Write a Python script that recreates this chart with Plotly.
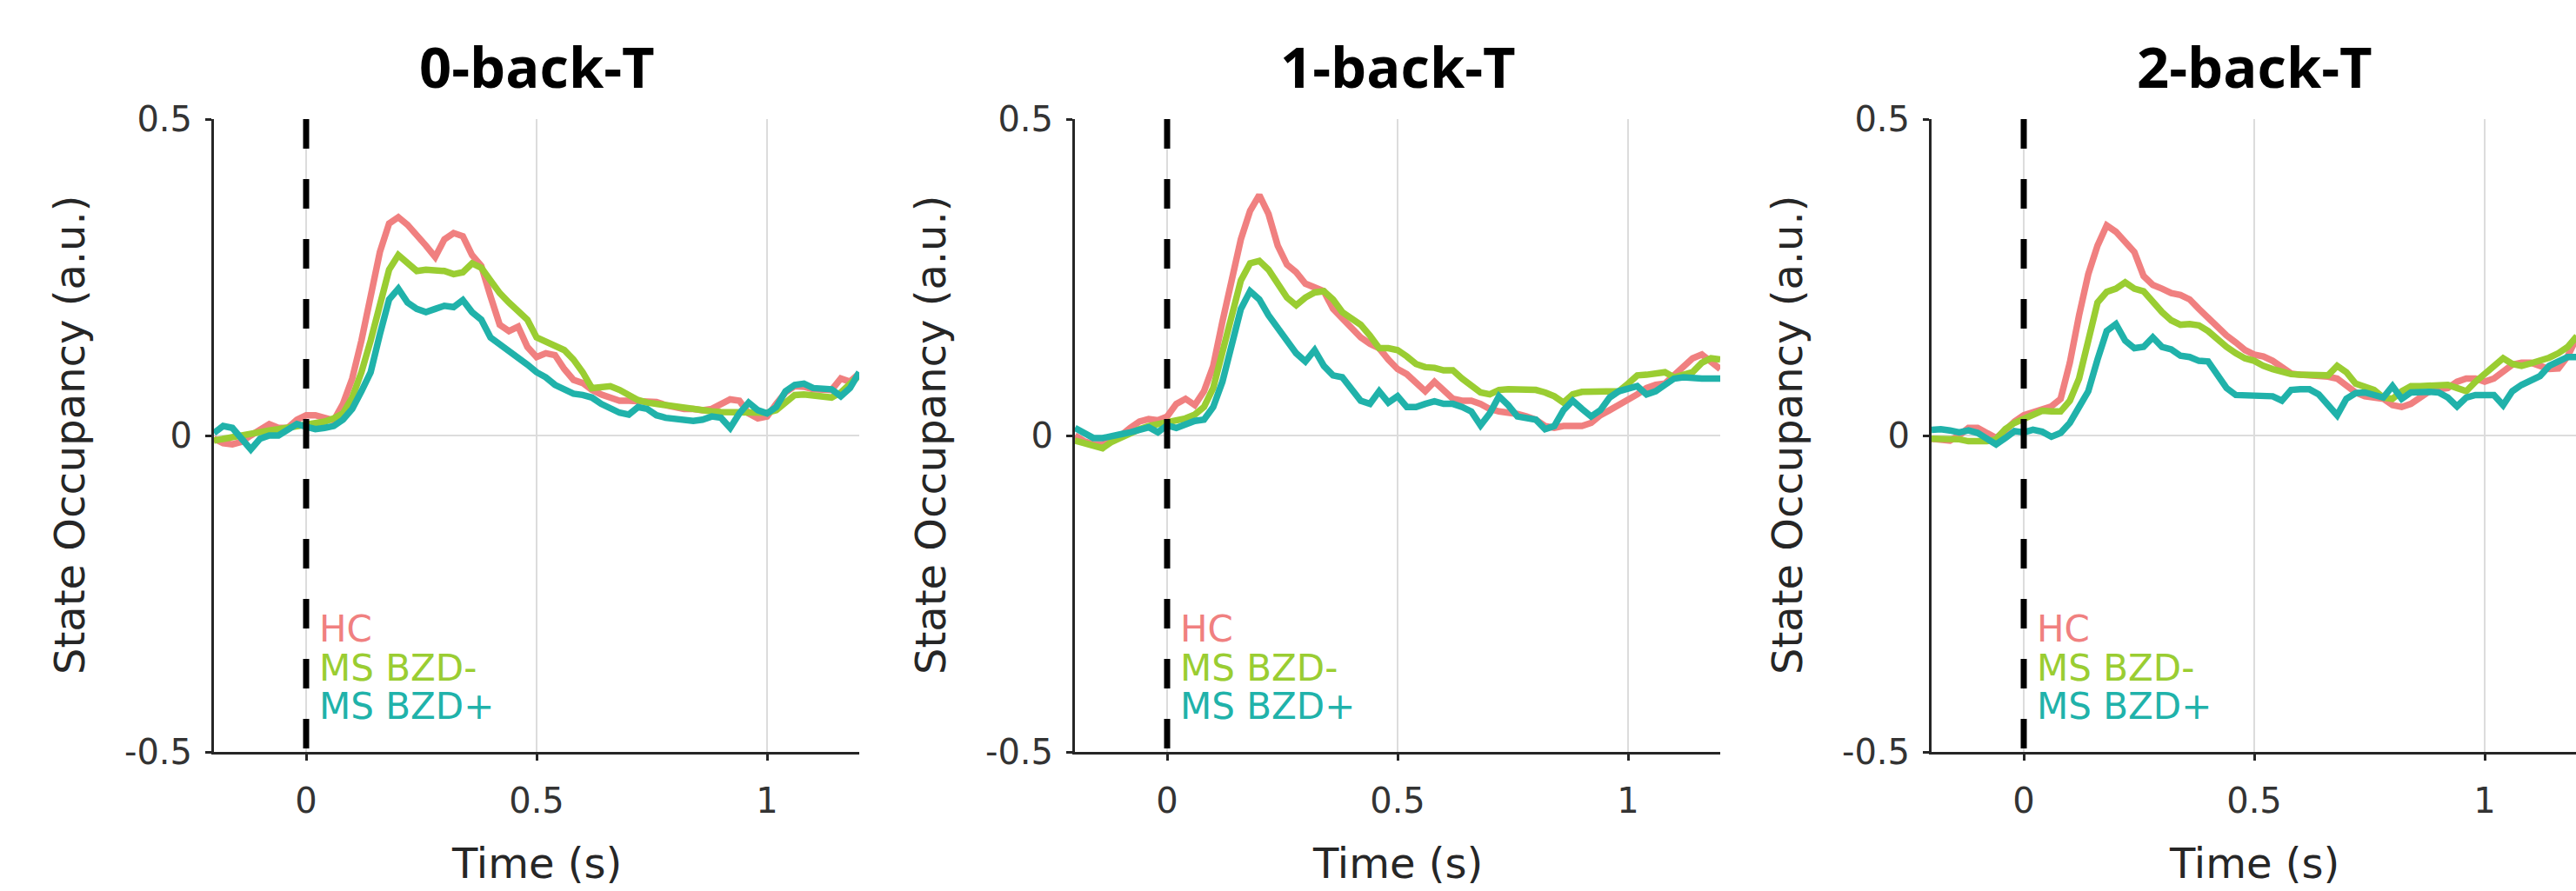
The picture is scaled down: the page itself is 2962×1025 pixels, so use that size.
import plotly.graph_objects as go

# ---------------- data ----------------
time_s = [round(-0.2 + 0.02 * i, 2) for i in range(71)]

panel_titles = ["0-back-T", "1-back-T", "2-back-T"]
group_names = ["HC", "MS BZD-", "MS BZD+"]
group_colors = ["#F08080", "#9ACD32", "#20B2AA"]

x_tick_vals = [0, 0.5, 1]
x_tick_text = ["0", "0.5", "1"]
y_tick_vals = [-0.5, 0, 0.5]
y_tick_text = ["-0.5", "0", "0.5"]

hc_0back = [-0.005, -0.012, -0.014, -0.01, 0.0, 0.01, 0.018, 0.012, 0.012, 0.025,
            0.032, 0.032, 0.028, 0.024, 0.05, 0.09, 0.15, 0.22, 0.29, 0.335,
            0.345, 0.333, 0.318, 0.30, 0.282, 0.31, 0.32, 0.315, 0.285, 0.268,
            0.22, 0.175, 0.165, 0.172, 0.14, 0.124, 0.13, 0.127, 0.105, 0.088,
            0.083, 0.072, 0.065, 0.06, 0.055, 0.055, 0.055, 0.055, 0.053, 0.048,
            0.045, 0.042, 0.042, 0.04, 0.042, 0.05, 0.057, 0.055, 0.035, 0.027,
            0.03, 0.05, 0.068, 0.078, 0.077, 0.073, 0.072, 0.072, 0.09, 0.085, 0.098]
bzdneg_0back = [-0.008, -0.005, -0.004, 0.0, 0.002, 0.005, 0.008, 0.01, 0.012, 0.014,
                0.016, 0.018, 0.022, 0.027, 0.035, 0.06, 0.1, 0.15, 0.21, 0.262,
                0.285, 0.272, 0.26, 0.262, 0.26, 0.26, 0.255, 0.258, 0.272, 0.265,
                0.245, 0.225, 0.21, 0.195, 0.183, 0.155, 0.148, 0.14, 0.135, 0.12,
                0.1, 0.075, 0.076, 0.078, 0.072, 0.065, 0.056, 0.052, 0.05, 0.048,
                0.045, 0.044, 0.04, 0.04, 0.038, 0.037, 0.037, 0.037, 0.037, 0.036,
                0.036, 0.04, 0.052, 0.064, 0.065, 0.064, 0.062, 0.06, 0.068, 0.08, 0.095]
bzdpos_0back = [0.004, 0.015, 0.012, -0.005, -0.022, -0.005, 0.0, 0.0, 0.01, 0.018,
                0.014, 0.01, 0.012, 0.015, 0.025, 0.042, 0.07, 0.1, 0.16, 0.215,
                0.232, 0.21, 0.2, 0.195, 0.2, 0.205, 0.203, 0.214, 0.195, 0.183,
                0.155, 0.145, 0.135, 0.125, 0.112, 0.1, 0.092, 0.08, 0.072, 0.066,
                0.064, 0.06, 0.05, 0.042, 0.036, 0.033, 0.045, 0.042, 0.032, 0.028,
                0.027, 0.025, 0.023, 0.025, 0.03, 0.028, 0.012, 0.035, 0.052, 0.04,
                0.035, 0.045, 0.07, 0.08, 0.082, 0.075, 0.073, 0.073, 0.062, 0.075, 0.1]

hc_1back = [0.0, -0.009, -0.014, -0.014, -0.008, 0.0, 0.012, 0.022, 0.026, 0.024,
            0.03, 0.05, 0.058, 0.048, 0.07, 0.11, 0.18, 0.25, 0.31, 0.355,
            0.38, 0.35, 0.3, 0.27, 0.258, 0.24, 0.235, 0.228, 0.2, 0.185,
            0.172, 0.155, 0.145, 0.138, 0.12, 0.105, 0.097, 0.085, 0.07, 0.085,
            0.072, 0.058, 0.055, 0.055, 0.05, 0.042, 0.038, 0.037, 0.034, 0.03,
            0.025, 0.015, 0.012, 0.015, 0.015, 0.015, 0.02, 0.032, 0.04, 0.048,
            0.055, 0.065, 0.075, 0.08, 0.082, 0.095, 0.11, 0.122, 0.128, 0.115, 0.105]
bzdneg_1back = [-0.008, -0.012, -0.016, -0.02, -0.01, -0.003, 0.004, 0.01, 0.015, 0.018,
                0.02, 0.022, 0.027, 0.033, 0.045, 0.075, 0.13, 0.19, 0.245, 0.272,
                0.276, 0.262, 0.24, 0.218, 0.206, 0.218, 0.226, 0.228, 0.215, 0.195,
                0.185, 0.175, 0.158, 0.138, 0.138, 0.135, 0.125, 0.113, 0.108, 0.107,
                0.103, 0.103, 0.09, 0.078, 0.068, 0.065, 0.072, 0.073, 0.073, 0.073,
                0.072, 0.068, 0.062, 0.052, 0.065, 0.069, 0.069, 0.069, 0.069, 0.07,
                0.082, 0.095, 0.096, 0.097, 0.1, 0.092, 0.095, 0.1, 0.115, 0.122, 0.12]
bzdpos_1back = [0.012, 0.005, -0.004, -0.004, 0.0, 0.002, 0.005, 0.009, 0.013, 0.005,
                0.016, 0.012, 0.018, 0.023, 0.025, 0.045, 0.085, 0.14, 0.2, 0.228,
                0.215, 0.19, 0.17, 0.15, 0.13, 0.117, 0.135, 0.11, 0.095, 0.092,
                0.075, 0.055, 0.05, 0.07, 0.052, 0.062, 0.045, 0.045, 0.05, 0.054,
                0.05, 0.05, 0.045, 0.038, 0.016, 0.035, 0.062, 0.048, 0.03, 0.027,
                0.025, 0.01, 0.015, 0.04, 0.055, 0.042, 0.03, 0.04, 0.06, 0.07,
                0.073, 0.078, 0.065, 0.07, 0.08, 0.09, 0.092, 0.09, 0.09, 0.09, 0.09]

hc_2back = [-0.005, -0.006, -0.008, 0.0, 0.012, 0.012, 0.005, -0.004, 0.008, 0.022,
            0.032, 0.036, 0.041, 0.046, 0.058, 0.115, 0.19, 0.255, 0.3, 0.332,
            0.322, 0.305, 0.29, 0.252, 0.238, 0.232, 0.225, 0.222, 0.215, 0.2,
            0.185, 0.172, 0.158, 0.147, 0.135, 0.128, 0.125, 0.118, 0.108, 0.098,
            0.096, 0.095, 0.095, 0.093, 0.09, 0.08, 0.068, 0.062, 0.06, 0.058,
            0.048, 0.045, 0.05, 0.06, 0.07, 0.073, 0.075, 0.085, 0.09, 0.09,
            0.085, 0.09, 0.1, 0.112, 0.115, 0.115, 0.11, 0.105, 0.106, 0.125, 0.155]
bzdneg_2back = [-0.005, -0.005, -0.005, -0.006, -0.009, -0.009, -0.009, -0.006, 0.01, 0.02,
                0.026, 0.032, 0.039, 0.038, 0.038, 0.055, 0.09, 0.15, 0.21, 0.227,
                0.232, 0.242, 0.232, 0.228, 0.21, 0.195, 0.182, 0.175, 0.176, 0.174,
                0.165, 0.152, 0.14, 0.13, 0.122, 0.118, 0.11, 0.105, 0.1, 0.097,
                0.096, 0.095, 0.095, 0.095, 0.11, 0.1, 0.082, 0.077, 0.072, 0.06,
                0.058, 0.07, 0.078, 0.078, 0.078, 0.08, 0.08, 0.075, 0.07, 0.085,
                0.098, 0.11, 0.122, 0.113, 0.11, 0.114, 0.118, 0.123, 0.13, 0.14, 0.157]
bzdpos_2back = [0.009, 0.01, 0.008, 0.005, 0.008, 0.004, -0.005, -0.014, -0.004, 0.007,
                0.005, 0.009, 0.006, -0.002, 0.004, 0.02, 0.045, 0.07, 0.12, 0.165,
                0.176, 0.15, 0.138, 0.14, 0.155, 0.14, 0.136, 0.126, 0.124, 0.118,
                0.117, 0.095, 0.075, 0.064, 0.064, 0.064, 0.064, 0.062, 0.055, 0.072,
                0.073, 0.073, 0.065, 0.05, 0.032, 0.058, 0.067, 0.068, 0.065, 0.06,
                0.078, 0.058, 0.068, 0.069, 0.069, 0.068, 0.06, 0.046, 0.06, 0.064,
                0.064, 0.064, 0.048, 0.07, 0.08, 0.088, 0.094, 0.11, 0.116, 0.124, 0.124]

panel_series = [
    [hc_0back, bzdneg_0back, bzdpos_0back],
    [hc_1back, bzdneg_1back, bzdpos_1back],
    [hc_2back, bzdneg_2back, bzdpos_2back],
]

# ---------------- layout geometry (pixels) ----------------
W, H = 2962, 1025
panel_left_px = [246, 1236, 2221]
panel_width_px = 742
plot_top_px, plot_bottom_px = 137, 865

FONT = "DejaVu Sans"
TITLE_FONT = "Open Sans"
AXIS_COLOR = "#262626"
GRID_COLOR = "#dcdcdc"

fig = go.Figure()
annotations = []

for i in range(3):
    n = "" if i == 0 else str(i + 1)
    xref, yref = "x" + n, "y" + n
    for name, color, vals in zip(group_names, group_colors, panel_series[i]):
        fig.add_trace(go.Scatter(
            x=time_s, y=vals, mode="lines", name=name,
            line=dict(color=color, width=7.5), xaxis=xref, yaxis=yref,
            showlegend=False))
    # stimulus onset
    fig.add_trace(go.Scatter(
        x=[0, 0], y=[0.5, -0.5], mode="lines",
        line=dict(color="black", width=7, dash="34px,35px"),
        xaxis=xref, yaxis=yref, showlegend=False))

    x0 = panel_left_px[i] / W
    x1 = min((panel_left_px[i] + panel_width_px) / W, 1.0)
    y0 = 1 - plot_bottom_px / H
    y1 = 1 - plot_top_px / H
    axis_common = dict(
        automargin=False,
        showgrid=True, gridcolor=GRID_COLOR, gridwidth=2, zeroline=False,
        showline=True, linecolor=AXIS_COLOR, linewidth=3, mirror=False,
        ticks="outside", ticklen=7, tickwidth=3, tickcolor=AXIS_COLOR,
        tickfont=dict(family=FONT, size=40, color="#333333"))
    x_hi = -0.2 + 1.4 * (x1 * W - panel_left_px[i]) / panel_width_px
    fig.layout["xaxis" + n] = dict(
        domain=[x0, x1], anchor=yref, range=[-0.2, x_hi],
        tickvals=x_tick_vals, ticktext=x_tick_text,
        ticklabelstandoff=12, **axis_common)
    fig.layout["yaxis" + n] = dict(
        domain=[y0, y1], anchor=xref, range=[-0.5, 0.5],
        tickvals=y_tick_vals, ticktext=y_tick_text,
        ticklabelstandoff=7, **axis_common)

    xc = (panel_left_px[i] + panel_width_px / 2) / W
    annotations.append(dict(
        text="<b>" + panel_titles[i] + "</b>", x=xc, y=1 - 76 / H,
        xref="paper", yref="paper", xanchor="center", yanchor="middle",
        showarrow=False, font=dict(family=TITLE_FONT, size=65, color="black")))
    annotations.append(dict(
        text="Time (s)", x=xc, y=1 - 993 / H,
        xref="paper", yref="paper", xanchor="center", yanchor="middle",
        showarrow=False, font=dict(family=FONT, size=48, color=AXIS_COLOR)))
    annotations.append(dict(
        text="State Occupancy (a.u.)", x=(panel_left_px[i] - 166) / W,
        y=(y0 + y1) / 2, xref="paper", yref="paper",
        xanchor="center", yanchor="middle", textangle=-90,
        showarrow=False, font=dict(family=FONT, size=48, color=AXIS_COLOR)))
    for k, (name, color) in enumerate(zip(group_names, group_colors)):
        annotations.append(dict(
            text=name, x=0.025, y=-0.306 - 0.061 * k,
            xref=xref, yref=yref, xanchor="left", yanchor="middle",
            showarrow=False, font=dict(family=FONT, size=42, color=color)))

fig.update_layout(
    width=W, height=H, margin=dict(l=0, r=0, t=0, b=0, autoexpand=False),
    paper_bgcolor="white", plot_bgcolor="white",
    annotations=annotations, showlegend=False)

fig.write_html(
    "out.html",
    config={"displayModeBar": False},
    post_script="document.body.style.margin='0';document.body.style.overflow='hidden';")
